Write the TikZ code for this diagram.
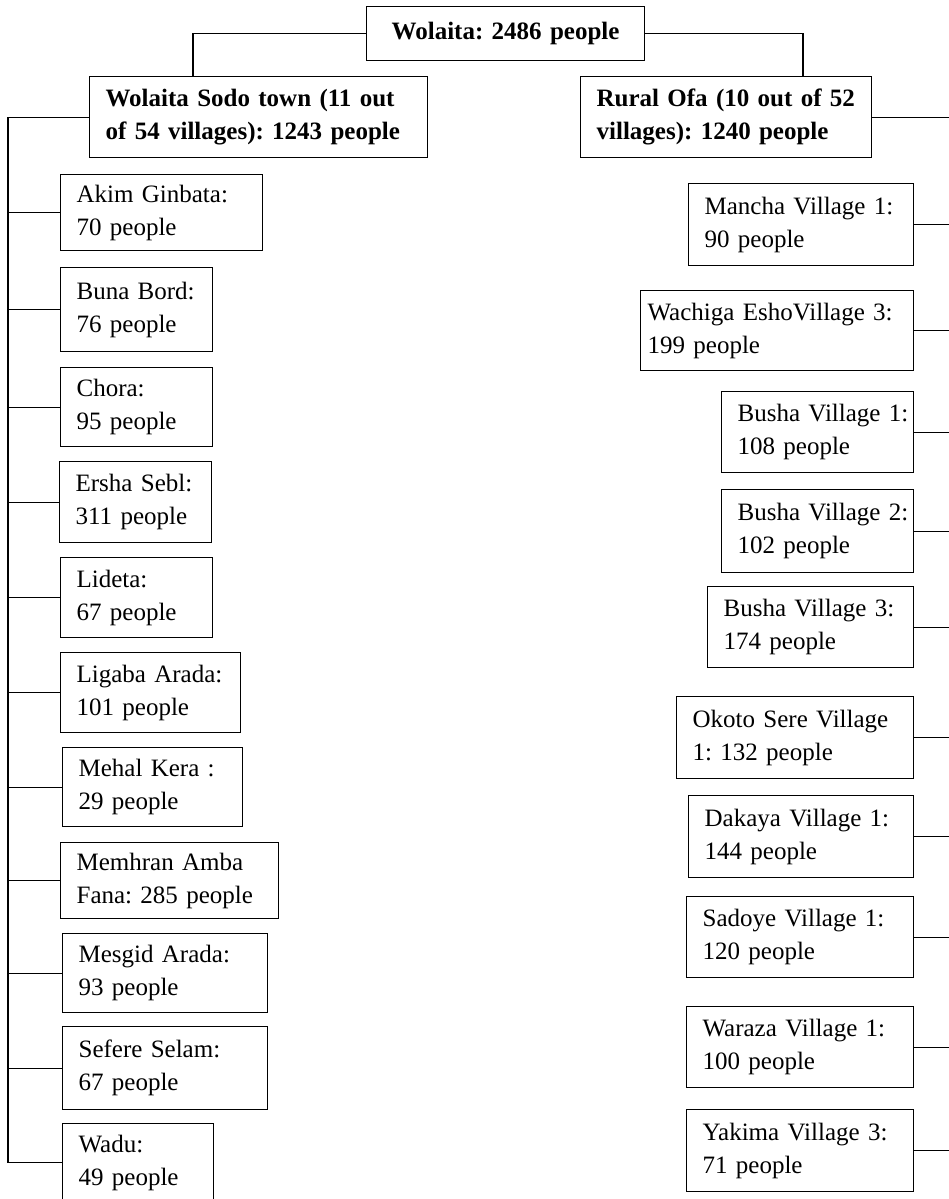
\documentclass[tikz,border=0pt]{standalone}
\usepackage{fontspec}
\setmainfont{Liberation Serif}
\frenchspacing
\begin{document}
\begin{tikzpicture}[x=0.75pt,y=-0.75pt,
  vbox/.style={draw, line width=0.9pt, anchor=north west, align=left,
    inner xsep=12pt, inner ysep=0pt,
    font=\fontsize{18.75}{24.75}\selectfont\frenchspacing},
  bbox/.style={vbox, font=\fontsize{18.75}{24.75}\selectfont\frenchspacing\bfseries},
  conn/.style={line width=0.9pt}]
\fill[white] (0,0) rectangle (949,1199);
\useasboundingbox (0,0) rectangle (949,1199);

% top level
\node[bbox, align=center, text width=184.5pt, minimum height=40.5pt] (top) at (366,6) {Wolaita: 2486 people};
\node[bbox, text width=229.5pt, minimum height=60.75pt] (sodo) at (89,76) {Wolaita Sodo town (11 out\\of 54 villages): 1243 people};
\node[bbox, text width=194.25pt, minimum height=60.75pt] (rural) at (580,76) {Rural Ofa (10 out of 52\\villages): 1240 people};

\coordinate (sodoin) at (193,76);
\coordinate (ruralin) at (803,76);
\coordinate (trunk) at (8,0);
\coordinate (redge) at (951,0);

% left children
\node[vbox, text width=127.5pt, minimum height=57pt] (akim) at (60,174) {Akim Ginbata:\\70 people};
\node[vbox, text width=90pt, minimum height=63pt] (buna) at (60,267) {Buna Bord:\\76 people};
\node[vbox, text width=90pt, minimum height=59.25pt] (chora) at (60,367) {Chora:\\95 people};
\node[vbox, text width=90pt, minimum height=60.75pt] (ersha) at (59,461) {Ersha Sebl:\\311 people};
\node[vbox, text width=90pt, minimum height=60pt] (lideta) at (60,557) {Lideta:\\67 people};
\node[vbox, text width=111pt, minimum height=60pt] (ligaba) at (60,652) {Ligaba Arada:\\101 people};
\node[vbox, text width=111pt, minimum height=59.25pt] (mehal) at (62,747) {Mehal Kera :\\29 people};
\node[vbox, text width=139.5pt, minimum height=57pt] (memhran) at (60,842) {Memhran Amba\\Fana: 285 people};
\node[vbox, text width=129.75pt, minimum height=59.25pt] (mesgid) at (62,933) {Mesgid Arada:\\93 people};
\node[vbox, text width=129.75pt, minimum height=62.25pt] (sefere) at (62,1026) {Sefere Selam:\\67 people};
\node[vbox, text width=89.25pt, minimum height=58.5pt] (wadu) at (62,1123) {Wadu:\\49 people};

% right children
\node[vbox, text width=144.75pt, minimum height=61.5pt] (mancha) at (688,183) {Mancha Village 1:\\90 people};
\node[vbox, inner xsep=5.25pt, text width=194.25pt, minimum height=60pt] (wachiga) at (640,290) {Wachiga EshoVillage 3:\\199 people};
\node[vbox, text width=120pt, minimum height=60.75pt] (busha1) at (721,391) {\mbox{Busha Village 1:}\\108 people};
\node[vbox, text width=120pt, minimum height=62.25pt] (busha2) at (721,489) {\mbox{Busha Village 2:}\\102 people};
\node[vbox, text width=130.5pt, minimum height=60.75pt] (busha3) at (707,586) {Busha Village 3:\\174 people};
\node[vbox, text width=153.75pt, minimum height=61.5pt] (okoto) at (676,696) {Okoto Sere Village\\1: 132 people};
\node[vbox, text width=144.75pt, minimum height=61.5pt] (dakaya) at (688,795) {Dakaya Village 1:\\144 people};
\node[vbox, text width=146.25pt, minimum height=60.75pt] (sadoye) at (686,896) {Sadoye Village 1:\\120 people};
\node[vbox, text width=146.25pt, minimum height=60.75pt] (waraza) at (686,1006) {Waraza Village 1:\\100 people};
\node[vbox, text width=146.25pt, minimum height=61.5pt] (yakima) at (686,1109) {Yakima Village 3:\\71 people};

% connectors
\draw[conn] (top.west) -| (sodoin);
\draw[conn] (top.east) -| (ruralin);
\draw[conn] (sodo.west) -- (sodo.west -| trunk) -- (wadu.west -| trunk);
\foreach \n in {akim,buna,chora,ersha,lideta,ligaba,mehal,memhran,mesgid,sefere,wadu}
  \draw[conn] (\n.west) -- (\n.west -| trunk);
\foreach \n in {rural,mancha,wachiga,busha1,busha2,busha3,okoto,dakaya,sadoye,waraza,yakima}
  \draw[conn] (\n.east) -- (\n.east -| redge);
\end{tikzpicture}
\end{document}
